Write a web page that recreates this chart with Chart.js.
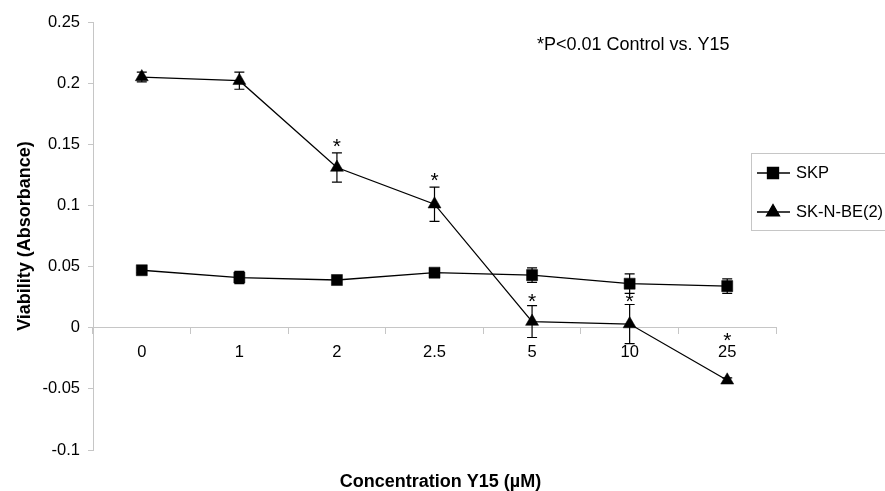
<!DOCTYPE html>
<html>
<head>
<meta charset="utf-8">
<script src="https://cdn.jsdelivr.net/npm/chart.js@4.4.1/dist/chart.umd.min.js"></script>
<style>
  html, body { margin: 0; padding: 0; background: #fff; }
  canvas { display: block; }
</style>
</head>
<body>
<canvas id="chart" width="885" height="491"></canvas>
<script>
const concentrations = ['0', '1', '2', '2.5', '5', '10', '25']
const skpValues = [0.047, 0.041, 0.039, 0.045, 0.043, 0.036, 0.034]
const skpErrors = [0.002, 0.005, 0.003, 0.003, 0.006, 0.008, 0.006]
const beValues = [0.205, 0.202, 0.131, 0.101, 0.005, 0.003, -0.043]
const beErrors = [0.004, 0.007, 0.012, 0.014, 0.013, 0.016, 0.002]
// where the significance asterisks sit (in y units)
const starValues = [null, null, 0.151, 0.123, 0.024, 0.024, -0.008]
const yTicks = [-0.1, -0.05, 0, 0.05, 0.1, 0.15, 0.2, 0.25]

const FONT = '"Liberation Sans", Arial, sans-serif'
const AXIS_GREY = '#c6c6c6'

const errorBars = {
    id: 'errorBars',
    beforeDatasetsDraw(chart) {
        const ctx = chart.ctx
        const y = chart.scales.y
        ctx.save()
        ctx.strokeStyle = '#000'
        ctx.lineWidth = 1.2
        chart.data.datasets.forEach((ds, i) => {
            const meta = chart.getDatasetMeta(i)
            meta.data.forEach((pt, j) => {
                const v = ds.data[j], e = ds.errors[j]
                const top = y.getPixelForValue(v + e)
                const bot = y.getPixelForValue(v - e)
                ctx.beginPath()
                ctx.moveTo(pt.x, top); ctx.lineTo(pt.x, bot)
                ctx.moveTo(pt.x - 5, top); ctx.lineTo(pt.x + 5, top)
                ctx.moveTo(pt.x - 5, bot); ctx.lineTo(pt.x + 5, bot)
                ctx.stroke()
            })
        })
        ctx.restore()
    }
}

const extras = {
    id: 'extras',
    afterDraw(chart) {
        const ctx = chart.ctx
        const area = chart.chartArea
        const x = chart.scales.x, y = chart.scales.y
        ctx.save()
        ctx.fillStyle = '#000'

        // asterisks, centred on their value
        ctx.font = '21px ' + FONT
        ctx.textAlign = 'center'
        ctx.textBaseline = 'alphabetic'
        const m = ctx.measureText('*')
        const shift = (m.actualBoundingBoxAscent - m.actualBoundingBoxDescent) / 2
        starValues.forEach((v, i) => {
            if (v === null) return
            ctx.fillText('*', x.getPixelForValue(i), y.getPixelForValue(v) + shift)
        })

        // note
        ctx.font = '18px ' + FONT
        ctx.textAlign = 'left'
        ctx.textBaseline = 'middle'
        ctx.fillText('*P<0.01 Control vs. Y15', 537, 45)

        // axis titles
        ctx.font = 'bold 18px ' + FONT
        ctx.textAlign = 'center'
        ctx.textBaseline = 'alphabetic'
        ctx.fillText('Concentration Y15 (µM)', (area.left + area.right) / 2 + 6, 487)
        ctx.save()
        ctx.translate(30, (area.top + area.bottom) / 2)
        ctx.rotate(-Math.PI / 2)
        ctx.fillText('Viability (Absorbance)', 0, 0)
        ctx.restore()

        // legend
        ctx.strokeStyle = AXIS_GREY
        ctx.lineWidth = 1
        ctx.strokeRect(751.5, 153.5, 140, 77)
        chart.data.datasets.forEach((ds, i) => {
            const ly = 173 + i * 39
            ctx.strokeStyle = '#000'
            ctx.lineWidth = 1.3
            ctx.beginPath()
            ctx.moveTo(757, ly); ctx.lineTo(790, ly)
            ctx.stroke()
            Chart.helpers.drawPoint(ctx, {
                pointStyle: ds.pointStyle, radius: ds.pointRadius, rotation: 0, borderWidth: 1
            }, 773, ly)
            ctx.fillStyle = '#000'
            ctx.fill()
            ctx.font = '16.5px ' + FONT
            ctx.textAlign = 'left'
            ctx.textBaseline = 'middle'
            ctx.fillText(ds.label, 796, ly)
        })
        ctx.restore()
    }
}

new Chart(document.getElementById('chart'), {
    type: 'line',
    data: {
        labels: concentrations,
        datasets: [{
            label: 'SKP',
            data: skpValues,
            errors: skpErrors,
            borderColor: '#000',
            borderWidth: 1.3,
            pointStyle: 'rect',
            pointRadius: 7.8,
            pointBackgroundColor: '#000',
            pointBorderColor: '#000',
            pointBorderWidth: 0.5
        }, {
            label: 'SK-N-BE(2)',
            data: beValues,
            errors: beErrors,
            borderColor: '#000',
            borderWidth: 1.3,
            pointStyle: 'triangle',
            pointRadius: 7.5,
            pointBackgroundColor: '#000',
            pointBorderColor: '#000',
            pointBorderWidth: 0.5
        }]
    },
    options: {
        responsive: false,
        animation: false,
        layout: { padding: { top: 22, right: 109, bottom: 41, left: 0 } },
        plugins: { legend: { display: false }, tooltip: { enabled: false } },
        scales: {
            x: {
                type: 'category',
                position: { y: 0 },
                offset: true,
                grid: { drawOnChartArea: false, offset: true, tickLength: 6, color: AXIS_GREY },
                border: { color: AXIS_GREY },
                ticks: { color: '#000', font: { family: FONT, size: 16.5 }, padding: 9, maxRotation: 0 }
            },
            y: {
                min: -0.1,
                max: 0.25,
                afterBuildTicks: s => { s.ticks = yTicks.map(v => ({ value: v })) },
                afterFit: s => { s.width = 93 },
                grid: { drawOnChartArea: false, tickLength: 5, color: AXIS_GREY },
                border: { color: AXIS_GREY },
                ticks: {
                    color: '#000',
                    font: { family: FONT, size: 16.5 },
                    padding: 8,
                    callback: v => String(Number(v.toFixed(2)))
                }
            }
        }
    },
    plugins: [errorBars, extras]
})
</script>
</body>
</html>
